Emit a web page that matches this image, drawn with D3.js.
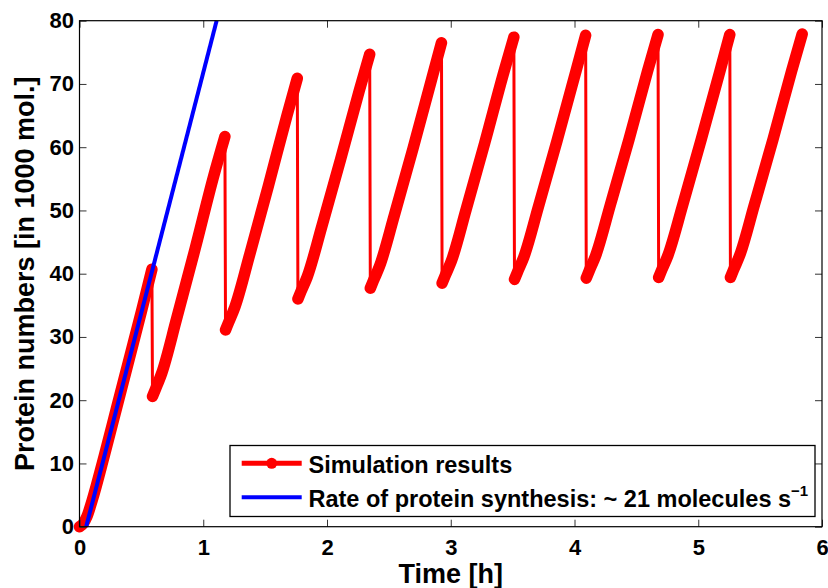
<!DOCTYPE html>
<html>
<head>
<meta charset="utf-8">
<script src="https://cdn.jsdelivr.net/npm/d3@7"></script>
<style>
  body { margin: 0; background: #fff; }
  svg text { font-family: "Liberation Sans", Arial, Helvetica, sans-serif; font-weight: bold; fill: #000; }
</style>
</head>
<body>
<div id="chart"></div>
<script>
// simulation results: time [h] and protein numbers [in 1000 mol.]
const simTime = [
  0, 0.03, 0.06, 0.1, 0.2, 0.3, 0.4, 0.5, 0.585,
  0.59, 0.615, 0.665, 0.785, 0.935, 1.085, 1.175,
  1.18, 1.205, 1.255, 1.375, 1.525, 1.675, 1.76,
  1.765, 1.79, 1.84, 1.96, 2.11, 2.26, 2.345,
  2.35, 2.375, 2.425, 2.545, 2.695, 2.845, 2.925,
  2.93, 2.955, 3.005, 3.125, 3.275, 3.425, 3.51,
  3.515, 3.54, 3.59, 3.71, 3.86, 4.01, 4.09,
  4.095, 4.12, 4.17, 4.29, 4.44, 4.59, 4.675,
  4.68, 4.705, 4.755, 4.875, 5.025, 5.175, 5.255,
  5.26, 5.285, 5.335, 5.455, 5.605, 5.755, 5.84
];
const simProtein = [
  0, 0.5, 1.6, 4.0, 11.2, 18.8, 26.4, 34.0, 40.7,
  20.6, 21.8, 24.3, 32.9, 44.0, 55.5, 61.7,
  31.1, 32.3, 34.7, 43.0, 53.8, 64.9, 70.9,
  36.0, 37.2, 39.5, 47.6, 58.1, 68.9, 74.7,
  37.7, 38.9, 41.2, 49.3, 59.8, 70.7, 76.5,
  38.5, 39.7, 42.0, 50.2, 60.7, 71.6, 77.4,
  39.1, 40.3, 42.6, 50.7, 61.1, 71.9, 77.7,
  39.3, 40.5, 42.8, 50.9, 61.2, 72.0, 77.8,
  39.4, 40.6, 42.9, 50.9, 61.3, 72.0, 77.8,
  39.4, 40.6, 42.9, 51.0, 61.3, 72.1, 77.9
];
// rate of protein synthesis line (~21 molecules/s)
const rateTime = [0.054, 1.108];
const rateProtein = [0, 80];

const xTicks = [0, 1, 2, 3, 4, 5, 6];
const yTicks = [0, 10, 20, 30, 40, 50, 60, 70, 80];
const legendLabels = ["Simulation results", "Rate of protein synthesis: ~ 21 molecules s"];

const W = 828, H = 588;
const margin = { left: 79.5, right: 6, top: 20.7, bottom: 61.3 };

const svg = d3.select("#chart").append("svg")
  .attr("width", W).attr("height", H);

const x = d3.scaleLinear().domain([0, 6]).range([margin.left, W - margin.right]);
const y = d3.scaleLinear().domain([0, 80]).range([H - margin.bottom, margin.top]);

const simPts = simTime.map((t, i) => [t, simProtein[i]]);
const ratePts = rateTime.map((t, i) => [t, rateProtein[i]]);

// split the simulation into growth runs wherever the value drops (cell division)
const runs = [];
let cur = [simPts[0]];
for (let i = 1; i < simPts.length; i++) {
  if (simPts[i][1] < simPts[i - 1][1]) { runs.push(cur); cur = []; }
  cur.push(simPts[i]);
}
runs.push(cur);

const line = d3.line().x(d => x(d[0])).y(d => y(d[1]));
const smooth = d3.line().x(d => x(d[0])).y(d => y(d[1])).curve(d3.curveMonotoneX);

// thin connecting line (shows the vertical drops)
svg.append("path")
  .attr("d", line(simPts))
  .attr("fill", "none")
  .attr("stroke", "#ff0000")
  .attr("stroke-width", 3);

// dense markers look like a thick band
svg.selectAll(".run")
  .data(runs)
  .enter().append("path")
  .attr("class", "run")
  .attr("d", d => smooth(d))
  .attr("fill", "none")
  .attr("stroke", "#ff0000")
  .attr("stroke-width", 11.5)
  .attr("stroke-linecap", "round")
  .attr("stroke-linejoin", "round");

svg.append("path")
  .attr("d", line(ratePts))
  .attr("fill", "none")
  .attr("stroke", "#0000ff")
  .attr("stroke-width", 4);

// axes box with inward ticks
const plotW = W - margin.right - margin.left;
const plotH = H - margin.bottom - margin.top;

const gx = svg.append("g")
  .attr("transform", `translate(0,${H - margin.bottom})`)
  .call(d3.axisBottom(x).tickValues(xTicks).tickSizeInner(-7).tickSizeOuter(0).tickPadding(12.5).tickFormat(d3.format("d")));
const gy = svg.append("g")
  .attr("transform", `translate(${margin.left},0)`)
  .call(d3.axisLeft(y).tickValues(yTicks).tickSizeInner(-7).tickSizeOuter(0).tickPadding(5.5).tickFormat(d3.format("d")));
const gt = svg.append("g")
  .attr("transform", `translate(0,${margin.top})`)
  .call(d3.axisTop(x).tickValues(xTicks).tickSizeInner(-7).tickSizeOuter(0).tickFormat(""));
const gr = svg.append("g")
  .attr("transform", `translate(${W - margin.right},0)`)
  .call(d3.axisRight(y).tickValues(yTicks).tickSizeInner(-7).tickSizeOuter(0).tickFormat(""));

[gx, gy, gt, gr].forEach(g => {
  g.select(".domain").remove();
  g.selectAll("line").attr("stroke", "#333").attr("stroke-width", 1);
  g.selectAll("text").style("font-size", "22px").style("font-family", null).attr("fill", "#000");
});

svg.append("rect")
  .attr("x", margin.left).attr("y", margin.top)
  .attr("width", plotW).attr("height", plotH)
  .attr("fill", "none").attr("stroke", "#000").attr("stroke-width", 1.2);

// axis labels
svg.append("text")
  .attr("x", x(3)).attr("y", 583)
  .attr("text-anchor", "middle")
  .style("font-size", "27px")
  .text("Time [h]");

svg.append("text")
  .attr("transform", `translate(33.5,${(margin.top + H - margin.bottom) / 2}) rotate(-90)`)
  .attr("text-anchor", "middle")
  .style("font-size", "27px")
  .text("Protein numbers [in 1000 mol.]");

// legend
const leg = svg.append("g");
leg.append("rect")
  .attr("x", 230).attr("y", 445.5).attr("width", 585).attr("height", 71)
  .attr("fill", "#fff").attr("stroke", "#000").attr("stroke-width", 1.3);

const legY = [463.3, 497.3];
leg.append("line")
  .attr("x1", 241.7).attr("x2", 301.7).attr("y1", legY[0]).attr("y2", legY[0])
  .attr("stroke", "#ff0000").attr("stroke-width", 5);
leg.append("circle")
  .attr("cx", 271.7).attr("cy", legY[0]).attr("r", 5.5).attr("fill", "#ff0000");
leg.append("line")
  .attr("x1", 241.7).attr("x2", 301.7).attr("y1", legY[1]).attr("y2", legY[1])
  .attr("stroke", "#0000ff").attr("stroke-width", 4);

leg.append("text")
  .attr("x", 308.5).attr("y", legY[0] + 9.5)
  .style("font-size", "23.5px")
  .text(legendLabels[0]);

const t2 = leg.append("text")
  .attr("x", 308.5).attr("y", legY[1] + 9.5)
  .style("font-size", "23.5px")
  .text(legendLabels[1]);
t2.append("tspan")
  .attr("dy", -11)
  .style("font-size", "15px")
  .text("\u22121");
</script>
</body>
</html>
